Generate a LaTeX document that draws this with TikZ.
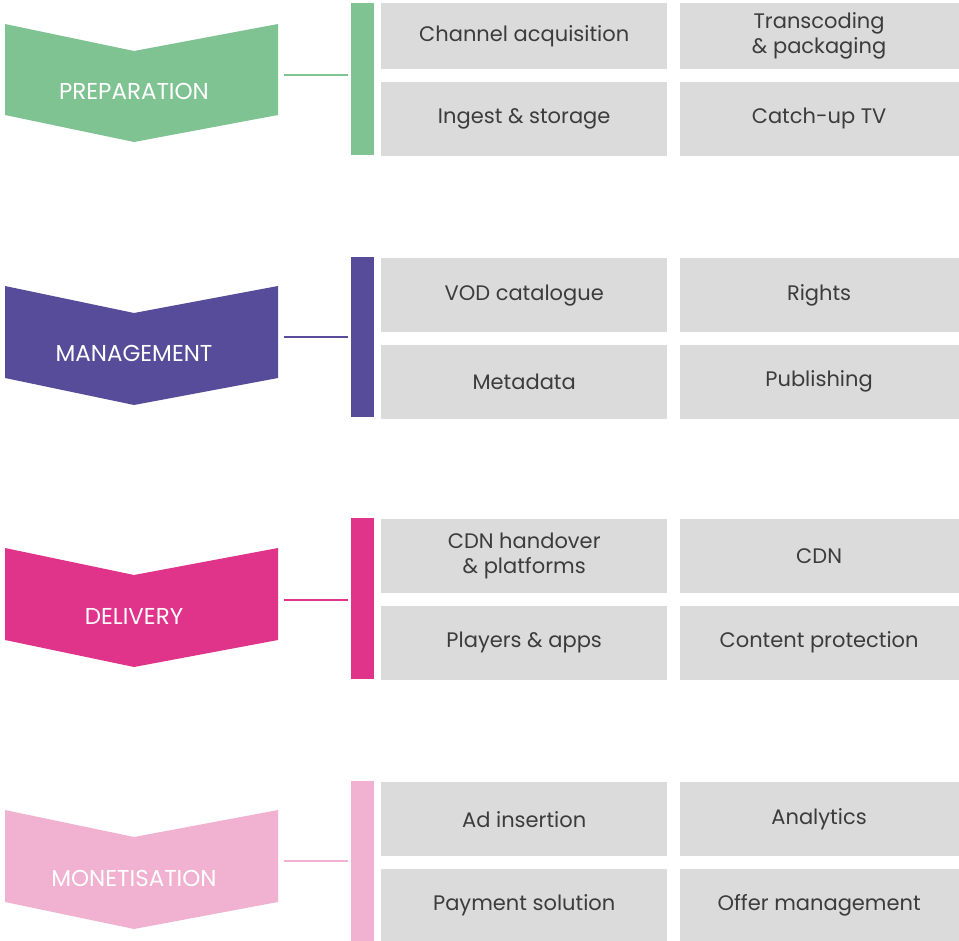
\documentclass[tikz,border=0pt]{standalone}
\usepackage{fontspec}
\setmainfont{Poppins}
\usetikzlibrary{positioning}
\definecolor{prepgreen}{HTML}{7FC392}
\definecolor{mgmtpurple}{HTML}{574C9A}
\definecolor{delivmagenta}{HTML}{E0338A}
\definecolor{monetpink}{HTML}{F1B2D1}
\definecolor{cellgrey}{HTML}{DADBDA}
\definecolor{celltext}{HTML}{3C3C3C}

\begin{document}
\begin{tikzpicture}[x=1pt,y=-1pt,
    cell/.style={fill=cellgrey,text=celltext,minimum width=286pt,minimum height=74pt,inner sep=0pt,align=center,font=\fontsize{21}{25}\selectfont},
    cellr/.style={cell,minimum width=279pt},
    stage/.style={text=white,font=\fontsize{23}{27}\selectfont},
    bar/.style={minimum width=23pt,inner sep=0pt,anchor=north west},
    link/.style={line width=2pt,shorten >=3pt}]
  \useasboundingbox (0,0) rectangle (959,941);
  % PREPARATION
  \fill[prepgreen] (5,24)--(134,51)--(278,24)--(278,115)--(134,142)--(5,115)--cycle;
  \node[stage] (prep) at (134,91) {PREPARATION};
  \node[bar,fill=prepgreen,minimum height=152pt] (prepbar) at (351,3) {};
  \coordinate (prepout) at (284,75);
  \draw[link,prepgreen] (prepout) -- (prepbar.west |- prepout);
  \node[cell,anchor=north west,minimum height=66pt] (chan) at (381,3) {Channel acquisition};
  \node[cellr,minimum height=66pt,right=12pt of chan] (trans) {Transcoding\\\& packaging};
  \node[cell,below=12pt of chan] (ingest) {Ingest \& storage};
  \node[cellr,below=12pt of trans] (catch) {Catch-up TV};
  % MANAGEMENT
  \fill[mgmtpurple] (5,286)--(134,313)--(278,286)--(278,378)--(134,405)--(5,378)--cycle;
  \node[stage] (mgmt) at (134,353) {MANAGEMENT};
  \node[bar,fill=mgmtpurple,minimum height=160pt] (mgmtbar) at (351,257) {};
  \coordinate (mgmtout) at (284,337);
  \draw[link,mgmtpurple] (mgmtout) -- (mgmtbar.west |- mgmtout);
  \node[cell,anchor=north west] (vod) at (381,258) {VOD catalogue};
  \node[cellr,right=12pt of vod] (rights) {Rights};
  \node[cell,below=12pt of vod] (meta) {Metadata};
  \node[cellr,below=12pt of rights] (publ) {Publishing};
  % DELIVERY
  \fill[delivmagenta] (5,548)--(134,575)--(278,548)--(278,640)--(134,667)--(5,640)--cycle;
  \node[stage] (deliv) at (134,616) {DELIVERY};
  \node[bar,fill=delivmagenta,minimum height=161pt] (delivbar) at (351,518) {};
  \coordinate (delivout) at (284,600);
  \draw[link,delivmagenta] (delivout) -- (delivbar.west |- delivout);
  \node[cell,anchor=north west] (cdnh) at (381,519) {CDN handover\\\& platforms};
  \node[cellr,right=12pt of cdnh] (cdn) {CDN};
  \node[cell,below=12pt of cdnh] (players) {Players \& apps};
  \node[cellr,below=12pt of cdn] (protect) {Content protection};
  % MONETISATION
  \fill[monetpink] (5,810)--(134,837)--(278,810)--(278,902)--(134,929)--(5,902)--cycle;
  \node[stage] (monet) at (134,878) {MONETISATION};
  \node[bar,fill=monetpink,minimum height=160pt] (monetbar) at (351,781) {};
  \coordinate (monetout) at (284,861);
  \draw[link,monetpink] (monetout) -- (monetbar.west |- monetout);
  \node[cell,anchor=north west] (adins) at (381,782) {Ad insertion};
  \node[cellr,right=12pt of adins] (analyt) {Analytics};
  \node[cell,below=12pt of adins] (pay) {Payment solution};
  \node[cellr,below=12pt of analyt] (offer) {Offer management};
\end{tikzpicture}
\end{document}
